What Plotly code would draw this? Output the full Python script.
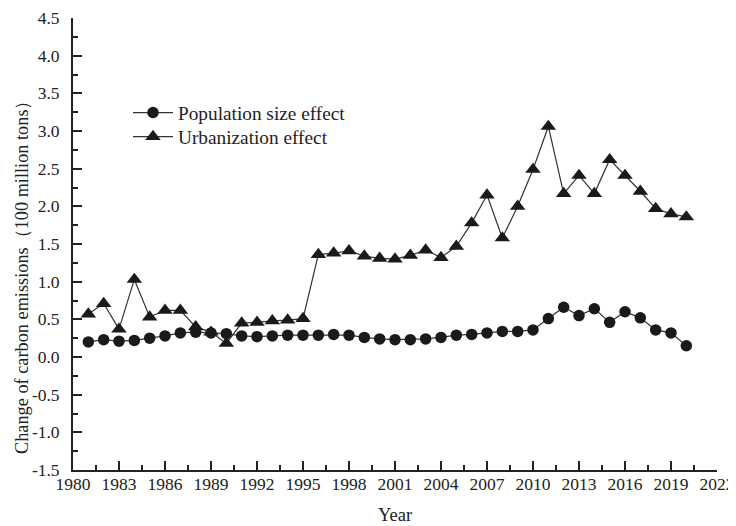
import plotly.graph_objects as go

years = list(range(1981, 2021))
population_effect = [0.20, 0.23, 0.21, 0.22, 0.25, 0.28, 0.32, 0.33, 0.32, 0.31,
                     0.28, 0.27, 0.28, 0.29, 0.29, 0.29, 0.30, 0.29, 0.26, 0.24,
                     0.23, 0.23, 0.24, 0.26, 0.29, 0.30, 0.32, 0.34, 0.34, 0.36,
                     0.51, 0.66, 0.55, 0.64, 0.46, 0.60, 0.52, 0.36, 0.32, 0.15]
urbanization_effect = [0.57, 0.71, 0.37, 1.03, 0.53, 0.62, 0.62, 0.40, 0.33, 0.18,
                       0.45, 0.46, 0.48, 0.49, 0.51, 1.36, 1.38, 1.41, 1.34, 1.31,
                       1.30, 1.35, 1.42, 1.32, 1.47, 1.78, 2.15, 1.58, 2.00, 2.49,
                       3.06, 2.17, 2.41, 2.17, 2.62, 2.41, 2.20, 1.97, 1.90, 1.86]
x_ticks = list(range(1980, 2023, 3))
y_ticks = [-1.5, -1.0, -0.5, 0.0, 0.5, 1.0, 1.5, 2.0, 2.5, 3.0, 3.5, 4.0, 4.5]

font = "Liberation Serif, Times New Roman, serif"
ink = "#222222"

fig = go.Figure()
fig.add_trace(go.Scatter(
    x=years, y=population_effect, mode="lines+markers", name="Population size effect",
    line=dict(color="#333333", width=1.2),
    marker=dict(symbol="circle", size=11.5, color="#1a1a1a"),
    legend="legend",
))
fig.add_trace(go.Scatter(
    x=years, y=urbanization_effect, mode="lines+markers", name="Urbanization effect",
    line=dict(color="#333333", width=1.2),
    marker=dict(symbol="triangle-up", size=13.5, color="#1a1a1a"),
    legend="legend2",
))

leg_common = dict(xanchor="left", yanchor="middle", bgcolor="rgba(0,0,0,0)",
                  font=dict(family=font, size=19.3, color=ink), itemwidth=40)

# page has an 8px body margin: figure sits at (8, 8); plot area spans y 18..470
PH = 452.0
fig.update_layout(
    width=728, height=518,
    margin=dict(l=65, r=19, t=10, b=56),
    paper_bgcolor="white", plot_bgcolor="white",
    font=dict(family=font, size=17.5, color=ink),
    legend=dict(x=0.0854, y=(470 - 113) / PH, **leg_common),
    legend2=dict(x=0.0854, y=(470 - 137) / PH, **leg_common),
    showlegend=True,
    annotations=[
        dict(text="Year", xref="paper", yref="paper", x=0.5, y=(470 - 515) / PH,
             xanchor="center", yanchor="middle", showarrow=False,
             font=dict(family=font, size=18.5, color=ink)),
        dict(text="Change of carbon emissions（100 million tons）", xref="paper", yref="paper",
             x=(22 - 73) / 644, y=(470 - 273) / PH, textangle=-90,
             xanchor="center", yanchor="middle", showarrow=False,
             font=dict(family=font, size=18.3, color=ink)),
    ],
)
fig.update_xaxes(
    range=[1980, 2022], tickvals=x_ticks, ticktext=[str(v) for v in x_ticks],
    automargin=False, ticklabeloverflow="allow",
    showgrid=False, zeroline=False, showline=True, linecolor=ink, linewidth=1.8,
    ticks="inside", ticklen=9, tickwidth=1.5, tickcolor=ink,
    minor=dict(ticks="inside", ticklen=5, tickwidth=1.5, tickcolor=ink,
               tick0=1981.5, dtick=3, showgrid=False),
    tickfont=dict(family=font, size=17.5),
    ticklabelstandoff=-3,
)
fig.update_yaxes(
    range=[-1.5, 4.5], tickvals=y_ticks, ticktext=[f"{v:.1f}" for v in y_ticks],
    automargin=False, ticklabeloverflow="allow",
    showgrid=False, zeroline=False, showline=True, linecolor=ink, linewidth=1.8,
    ticks="inside", ticklen=9, tickwidth=1.5, tickcolor=ink,
    minor=dict(ticks="inside", ticklen=5, tickwidth=1.5, tickcolor=ink,
               tick0=-1.25, dtick=0.5, showgrid=False),
    tickfont=dict(family=font, size=17.5),
    ticklabelstandoff=8,
)

fig.write_html("out.html")
